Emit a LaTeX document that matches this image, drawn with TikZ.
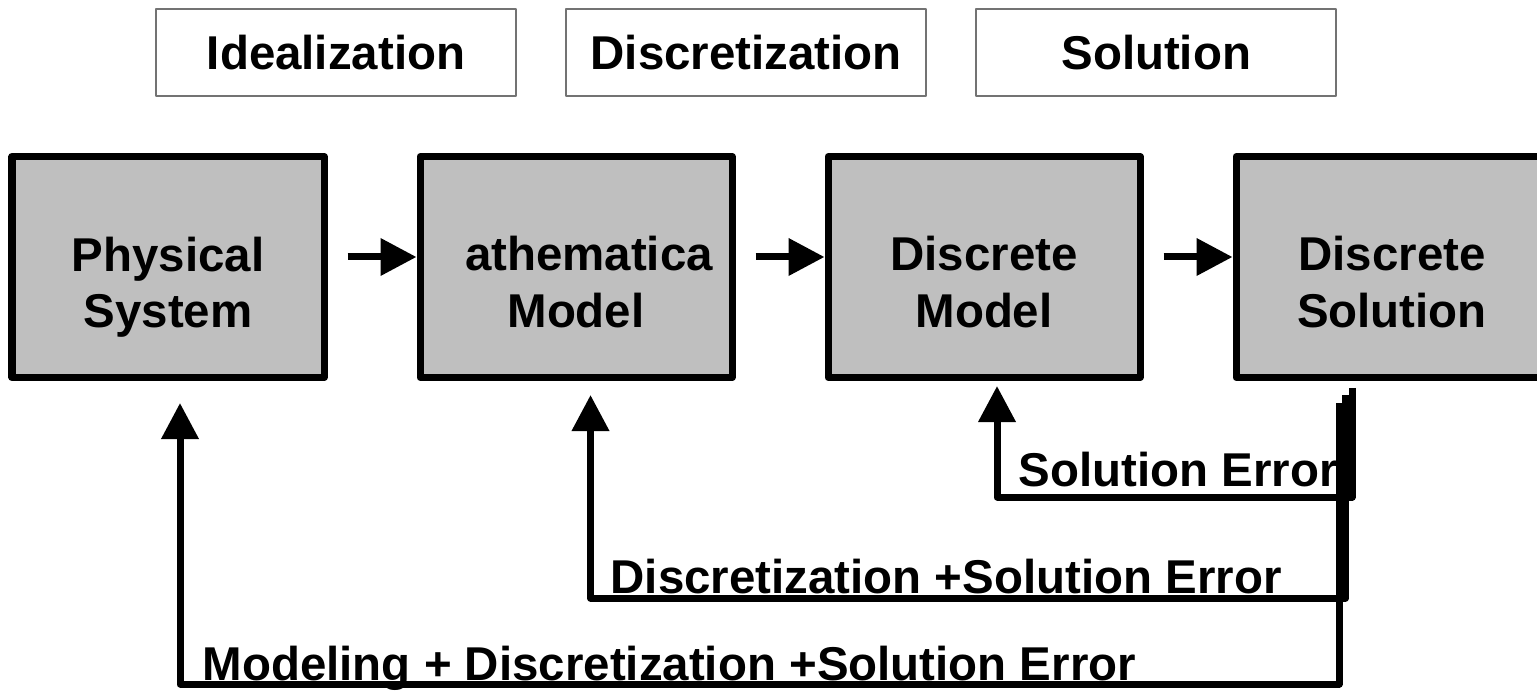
\documentclass[tikz,border=0pt]{standalone}
\usepackage{fontspec}
\setmainfont{Liberation Sans}
\usetikzlibrary{positioning,arrows.meta}
\definecolor{boxgray}{rgb}{0.75,0.75,0.75}
\definecolor{framegray}{rgb}{0.45,0.45,0.45}

\begin{document}
\begin{tikzpicture}[line join=round,>={Triangle[length=0.36cm,width=0.36cm]},x=1.0cm,y=1.0cm,
    every node/.style={font=\fontsize{13.5}{16}\selectfont\bfseries},
    stage/.style={draw=framegray,line width=0.6pt,minimum width=3.6cm,minimum height=0.87cm,inner sep=0pt},
    model/.style={draw=black,fill=boxgray,line width=0.07cm,minimum width=3.12cm,minimum height=2.21cm,inner sep=0pt},
    txt/.style={align=center,inner sep=0pt},
    flow/.style={->,line width=0.07cm},
    fb/.style={->,line width=0.07cm},
    err/.style={anchor=base west,inner sep=0pt}]
    \useasboundingbox (0,0) rectangle (15.37,6.9);
    \clip (0,0) rectangle (15.37,6.9);
    % steps on top
    \node[stage] (ideal) at (3.36,6.375) {Idealization};
    \node[stage,right=0.48cm of ideal] (discr) {Discretization};
    \node[stage,right=0.48cm of discr] (solut) {Solution};
    % models
    \node[model] (b1) at (1.68,4.23) {};
    \node[model,right=0.89cm of b1] (b2) {};
    \node[model,right=0.89cm of b2] (b3) {};
    \node[model,right=0.89cm of b3] (b4) {};
    \node[txt] (t1) at ([yshift=-0.2cm]b1.center) {Physical\\System};
    \node[txt] (t2) at ([yshift=-0.15cm]b2.center) {\hspace*{0.26cm}athematica\\Model};
    \node[txt] (t3) at ([yshift=-0.15cm]b3.center) {Discrete\\Model};
    \node[txt] (t4) at ([yshift=-0.15cm]b4.center) {Discrete\\Solution};
    \draw[flow] ([xshift=0.2cm,yshift=0.1cm]b1.east) -- ([yshift=0.1cm]b2.west);
    \draw[flow] ([xshift=0.2cm,yshift=0.1cm]b2.east) -- ([yshift=0.1cm]b3.west);
    \draw[flow] ([xshift=0.2cm,yshift=0.1cm]b3.east) -- ([yshift=0.1cm]b4.west);
    % error feedback
    \coordinate (s1) at (13.52,3.02);
    \coordinate (s2) at (13.455,2.95);
    \coordinate (s3) at (13.39,2.87);
    \coordinate (e1) at ([xshift=0.13cm,yshift=-0.05cm]b3.south);
    \coordinate (e2) at ([xshift=0.145cm,yshift=-0.14cm]b2.south);
    \coordinate (e3) at ([xshift=0.12cm,yshift=-0.22cm]b1.south);
    \node[err] (l1) at (10.18,2.04) {Solution Error};
    \node[err] (l2) at (6.10,0.97) {Discretization +Solution Error};
    \node[err] (l3) at (2.02,0.10) {Modeling + Discretization +Solution Error};
    \draw[fb] (s1) -- ++(0,-1.09) -| (e1);
    \draw[fb] (s2) -- ++(0,-2.03) -| (e2);
    \draw[fb] (s3) -- ++(0,-2.81) -| (e3);
\end{tikzpicture}
\end{document}
